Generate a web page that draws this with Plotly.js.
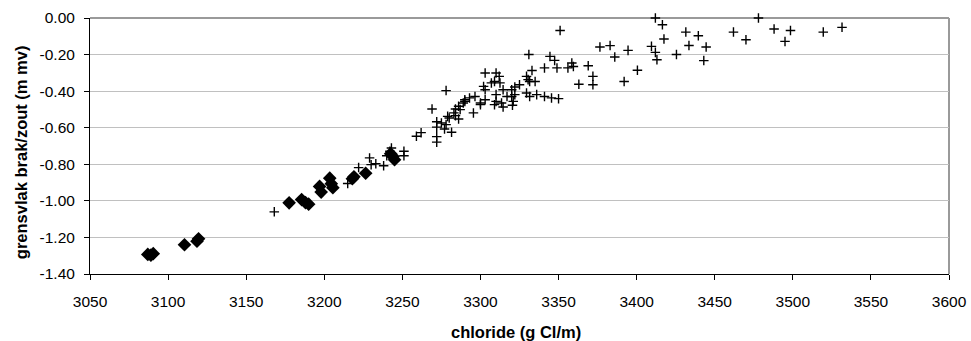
<!DOCTYPE html>
<html>
<head>
<meta charset="utf-8">
<script src="https://cdn.plot.ly/plotly-3.0.1.min.js"></script>
<style>html,body{margin:0;padding:0;background:#fff;}#chart{width:971px;height:341px;}</style>
</head>
<body>
<div id="chart"></div>
<script>
// Series 1: diamonds
const diamondX = [3087, 3089, 3090.5, 3110.5, 3118.5, 3119.5, 3177.5, 3185.5, 3188, 3190,
  3197, 3198, 3203.5, 3204.5, 3205.5, 3218, 3219, 3226.5, 3242.5, 3244, 3245];
const diamondY = [-1.293, -1.297, -1.289, -1.24, -1.221, -1.207, -1.011, -0.993, -1.01, -1.018,
  -0.921, -0.952, -0.876, -0.906, -0.928, -0.879, -0.868, -0.849, -0.742, -0.758, -0.775];

// Series 2: crosses
const crossX = [3168, 3215, 3222, 3229, 3230, 3233, 3238, 3240, 3242, 3243,
  3251, 3251, 3259, 3262, 3269, 3278, 3272, 3272, 3272, 3272,
  3275, 3277, 3278, 3279, 3280, 3281.5, 3283, 3284, 3284, 3286,
  3286, 3287, 3289, 3290, 3290, 3293, 3295.5, 3296.5, 3300, 3300,
  3303, 3302, 3303, 3303, 3307, 3309, 3310, 3312, 3312.5, 3314.5,
  3310, 3310, 3309, 3313.5, 3314.5, 3317, 3320, 3321, 3320.5, 3320,
  3322, 3322, 3325, 3329.5, 3330.5, 3331.5, 3335, 3329.5, 3331.5, 3336,
  3341, 3345.5, 3350, 3331, 3333, 3341, 3344.5, 3347.5, 3349, 3351,
  3356, 3358.5, 3359.5, 3363, 3369, 3372, 3372, 3376.5, 3383, 3386,
  3392, 3394.5, 3400.5, 3409.5, 3412, 3412, 3413, 3416.5, 3417.5, 3425.5,
  3431.5, 3433.5, 3439.5, 3443, 3444.5, 3462, 3470, 3478, 3488, 3495,
  3498.5, 3519.5, 3531.5];
const crossY = [-1.06, -0.905, -0.818, -0.765, -0.802, -0.797, -0.808, -0.753, -0.729, -0.711,
  -0.729, -0.753, -0.647, -0.627, -0.498, -0.397, -0.567, -0.597, -0.649, -0.679,
  -0.574, -0.607, -0.583, -0.538, -0.547, -0.625, -0.519, -0.534, -0.498, -0.552,
  -0.483, -0.501, -0.465, -0.447, -0.456, -0.437, -0.519, -0.429, -0.465, -0.474,
  -0.447, -0.374, -0.392, -0.301, -0.355, -0.347, -0.301, -0.319, -0.355, -0.392,
  -0.419, -0.456, -0.474, -0.465, -0.487, -0.429, -0.429, -0.456, -0.477, -0.392,
  -0.377, -0.419, -0.365, -0.319, -0.337, -0.347, -0.347, -0.41, -0.429, -0.419,
  -0.429, -0.437, -0.441, -0.20, -0.287, -0.273, -0.21, -0.232, -0.273, -0.068,
  -0.273, -0.246, -0.265, -0.362, -0.261, -0.319, -0.365, -0.159, -0.151, -0.213,
  -0.347, -0.177, -0.286, -0.155, 0.00, -0.188, -0.228, -0.037, -0.115, -0.20,
  -0.077, -0.15, -0.097, -0.233, -0.159, -0.077, -0.119, 0.00, -0.06, -0.128,
  -0.068, -0.077, -0.051];

// Axis ticks
const xTickVals = [3050, 3100, 3150, 3200, 3250, 3300, 3350, 3400, 3450, 3500, 3550, 3600];
const yTickVals = [0, -0.2, -0.4, -0.6, -0.8, -1.0, -1.2, -1.4];
const yTickText = ["0.00", "-0.20", "-0.40", "-0.60", "-0.80", "-1.00", "-1.20", "-1.40"];

const xTitle = "chloride (g Cl/m)";
const yTitle = "grensvlak brak/zout (m mv)";

const FONT = "Arial, 'Liberation Sans', sans-serif";

const traces = [
  {
    type: 'scatter', mode: 'markers', x: diamondX, y: diamondY, cliponaxis: false,
    marker: {symbol: 'diamond', size: 10.5, color: '#000000', line: {width: 0}},
    showlegend: false, hoverinfo: 'x+y'
  },
  {
    type: 'scatter', mode: 'markers', x: crossX, y: crossY, cliponaxis: false,
    marker: {symbol: 'cross-thin', size: 6.8, color: '#000000', line: {width: 1.4, color: '#000000'}},
    showlegend: false, hoverinfo: 'x+y'
  }
];

const layout = {
  width: 971, height: 341,
  margin: {l: 90, r: 22, t: 18, b: 67, pad: 0},
  paper_bgcolor: '#ffffff', plot_bgcolor: '#ffffff',
  font: {family: FONT, size: 15, color: '#000000'},
  showlegend: false,
  xaxis: {
    range: [3050, 3600], tickmode: 'array', tickvals: xTickVals,
    showgrid: false, zeroline: false, showline: true, linecolor: '#000000', linewidth: 1,
    ticks: 'outside', ticklen: 5, tickcolor: '#000000', tickwidth: 1,
    tickfont: {family: FONT, size: 15.5, color: '#000000'}, ticklabelstandoff: 8
  },
  yaxis: {
    range: [-1.4, 0], tickmode: 'array', tickvals: yTickVals, ticktext: yTickText,
    showgrid: true, gridcolor: '#c0c0c0', gridwidth: 1,
    zeroline: false, showline: true, linecolor: '#000000', linewidth: 1,
    ticks: 'outside', ticklen: 5, tickcolor: '#000000', tickwidth: 1,
    tickfont: {family: FONT, size: 15.5, color: '#000000'}, ticklabelstandoff: 6
  },
  shapes: [
    {type: 'line', xref: 'paper', yref: 'paper', x0: 0, x1: 1, y0: 1, y1: 1,
     line: {color: '#9a9a9a', width: 2}, layer: 'below'},
    {type: 'line', xref: 'paper', yref: 'paper', x0: 1, x1: 1, y0: 0, y1: 1,
     line: {color: '#9a9a9a', width: 2}, layer: 'below'}
  ],
  annotations: [
    {text: '<b>' + xTitle + '</b>', xref: 'paper', yref: 'paper', x: 0.4965, y: -0.2266,
     xanchor: 'center', yanchor: 'middle', showarrow: false,
     font: {family: FONT, size: 16.5, color: '#000000'}},
    {text: '<b>' + yTitle + '</b>', xref: 'paper', yref: 'paper', x: -0.0807, y: 0.4746,
     xanchor: 'center', yanchor: 'middle', textangle: -90, showarrow: false,
     font: {family: FONT, size: 16.5, color: '#000000'}}
  ]
};

Plotly.newPlot('chart', traces, layout, {displayModeBar: false, staticPlot: true});
</script>
</body>
</html>
